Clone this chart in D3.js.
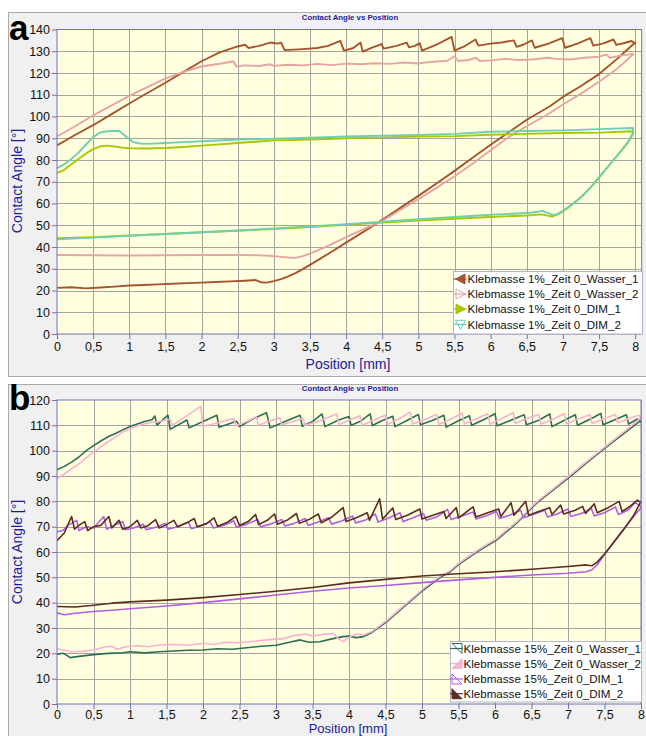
<!DOCTYPE html>
<html>
<head>
<meta charset="utf-8">
<script src="https://cdn.jsdelivr.net/npm/d3@7"></script>
<style>
  body { margin: 0; background: #fff; }
  svg { display: block; font-family: "Liberation Sans", Arial, sans-serif; }
</style>
</head>
<body>
<div id="chart"></div>
<script>
// ---- panel a : Klebmasse 1% ----
const aNames = ['Klebmasse 1%_Zeit 0_Wasser_1', 'Klebmasse 1%_Zeit 0_Wasser_2', 'Klebmasse 1%_Zeit 0_DIM_1', 'Klebmasse 1%_Zeit 0_DIM_2']
const aW1Lower = [[0,21.2],[0.2,21.5],[0.4,21],[0.6,21.4],[0.8,21.8],[1,22.3],[1.2,22.5],[1.4,22.8],[1.6,23.1],[1.8,23.4],[2,23.6],[2.2,23.9],[2.4,24.2],[2.6,24.5],[2.75,24.8],[2.82,23.8],[2.9,23.6],[3,24.3],[3.1,25.2],[3.2,26.5],[3.3,28],[3.4,29.8],[3.5,31.8],[3.75,36.8],[4,42],[4.25,47.2],[4.5,52.5],[4.75,58],[5,63.5],[5.25,69.2],[5.5,75],[5.75,81],[6,87],[6.27,93.2],[6.5,98.5],[6.82,104.7],[7,109],[7.25,114],[7.5,119.5],[7.75,126.5],[7.9,131],[8,134]]
const aW1Upper = [[0,86.7],[0.25,91.5],[0.5,96],[0.75,101],[1,106],[1.25,110.8],[1.5,115.5],[1.75,120.5],[2,125.4],[2.25,129.5],[2.5,132.2],[2.6,133],[2.65,131.5],[2.8,132.5],[2.95,134],[3.05,133.5],[3.1,134],[3.15,130.5],[3.4,131],[3.6,131.5],[3.75,132.5],[3.92,134.8],[3.97,130.3],[4.1,131.5],[4.2,134],[4.23,129.8],[4.35,131.5],[4.49,133.3],[4.52,131.2],[4.7,132.5],[4.84,134],[4.87,131.8],[4.95,132.5],[5.02,133.7],[5.05,130.3],[5.25,133],[5.46,136.6],[5.5,130.3],[5.65,132.5],[5.79,135.4],[5.83,132.6],[6,133.5],[6.15,134],[6.32,135],[6.36,132],[6.45,133],[6.57,135],[6.61,131.6],[6.8,133.5],[6.99,136],[7.03,131.6],[7.2,133.5],[7.38,136],[7.42,132.6],[7.55,133.5],[7.7,135.4],[7.74,132.9],[7.85,133.8],[7.95,134.7],[8,133.5]]
const aW2Lower = [[0,36.3],[0.5,36.2],[1,36.1],[1.5,36.2],[2,36.3],[2.5,36.4],[2.8,36.2],[3,35.8],[3.2,35.2],[3.3,35],[3.4,35.8],[3.5,37],[3.75,40.5],[4,44.5],[4.25,48.3],[4.5,52],[4.75,57],[5,62],[5.25,67.2],[5.5,72.5],[5.75,78.3],[6,84.5],[6.27,91],[6.5,95.5],[6.82,101.6],[7,105.5],[7.25,110.5],[7.5,116],[7.75,122],[7.97,128.5]]
const aW2Upper = [[0,90.8],[0.25,95.5],[0.5,100.5],[0.75,105],[1,109.5],[1.25,113.5],[1.5,117.5],[1.75,120.5],[2,123],[2.2,124],[2.3,124.5],[2.44,125.4],[2.48,123],[2.6,123.5],[2.8,123.2],[2.95,124],[3,123.3],[3.2,123.8],[3.4,123.5],[3.6,124.2],[3.8,123.6],[4,124.3],[4.2,124],[4.4,124.5],[4.6,124.2],[4.8,124.8],[5,124.4],[5.2,125.2],[5.4,125.6],[5.5,127.7],[5.55,125.5],[5.7,126],[5.8,127],[5.85,125.5],[6,125.8],[6.2,126.5],[6.4,126],[6.6,126.3],[6.8,127],[6.9,126.5],[7.1,126.2],[7.3,127],[7.5,127.5],[7.6,128.5],[7.65,127],[7.8,128],[7.97,128.8]]
const aD1Lower = [[0,44],[0.5,44.5],[1,45.3],[1.5,46],[2,46.8],[2.5,47.5],[3,48.3],[3.5,49.2],[4,50.2],[4.5,51.2],[5,52.2],[5.5,53],[6,53.8],[6.5,54.5],[6.7,55],[6.8,54.3],[6.85,54],[6.95,55.3],[7.05,57.5],[7.2,61.5],[7.3,64.5],[7.4,68],[7.5,72],[7.6,76],[7.7,80],[7.8,84],[7.9,88],[7.97,92]]
const aD1Upper = [[0,74],[0.1,75.5],[0.2,78],[0.3,80.5],[0.4,83],[0.5,85],[0.6,86.3],[0.7,86.6],[0.8,86.2],[0.9,85.7],[1,85.4],[1.25,85.3],[1.5,85.5],[1.75,86],[2,86.6],[2.25,87.2],[2.5,87.8],[2.75,88.4],[3,89],[3.25,89.2],[3.5,89.4],[3.75,89.6],[4,90],[4.5,90.4],[5,90.8],[5.5,91],[6,91.6],[6.5,92],[7,92.4],[7.5,92.6],[7.97,93.2]]
const aD2Lower = [[0,43.5],[0.5,44.3],[1,45.2],[1.5,46],[2,46.8],[2.5,47.6],[3,48.5],[3.5,49.5],[4,50.5],[4.5,51.6],[5,52.8],[5.5,53.8],[6,54.8],[6.5,55.6],[6.65,56.2],[6.72,56.6],[6.8,55.5],[6.88,54.6],[6.95,55.6],[7.05,57.8],[7.2,61.5],[7.3,64.5],[7.4,68],[7.5,72],[7.6,76],[7.7,80],[7.8,84],[7.9,88.3],[7.97,92.5]]
const aD2Upper = [[0,76.3],[0.1,78],[0.2,80.5],[0.3,83.5],[0.4,87],[0.5,90.5],[0.6,92.7],[0.7,93.2],[0.8,93.3],[0.86,93.4],[0.95,90.9],[1.05,88.3],[1.15,87.6],[1.25,87.4],[1.5,87.8],[1.75,88.2],[2,88.6],[2.5,89.4],[3,89.8],[3.5,90.2],[4,90.8],[4.5,91.2],[5,91.5],[5.5,92],[6,93],[6.5,93.3],[7,93.6],[7.5,94.2],[7.97,94.7]]

// ---- panel b : Klebmasse 15% ----
const bNames = ['Klebmasse 15%_Zeit 0_Wasser_1', 'Klebmasse 15%_Zeit 0_Wasser_2', 'Klebmasse 15%_Zeit 0_DIM_1', 'Klebmasse 15%_Zeit 0_DIM_2']
const bW1Lower = [[0,19.6],[0.08,20],[0.12,19.5],[0.18,18.3],[0.3,18.8],[0.5,19.5],[0.7,20],[0.9,20.2],[1,20.6],[1.2,20.2],[1.4,20.6],[1.6,20.9],[1.8,21.2],[2,21.3],[2.2,21.8],[2.4,21.6],[2.6,22.2],[2.8,22.8],[3,23.2],[3.2,24.5],[3.33,25.3],[3.45,24.4],[3.6,24.6],[3.75,25.6],[3.92,26.6],[4,26.8],[4.1,26.2],[4.2,26.6],[4.3,28],[4.52,32.5],[4.75,38.3],[5.02,45],[5.25,50],[5.38,52],[5.5,55],[5.75,60],[6.02,64.7],[6.3,71.5],[6.57,79.3],[6.8,84.5],[7.05,90.2],[7.3,96.3],[7.55,102],[7.8,107.5],[8,112]]
const bW1Upper = [[0,92.5],[0.1,93.8],[0.2,95.5],[0.3,97.5],[0.4,100],[0.5,102],[0.6,103.8],[0.7,105.5],[0.8,106.8],[0.9,108.2],[1,109.5],[1.1,110.5],[1.2,111.5],[1.3,112.2],[1.34,113.7],[1.37,110.1],[1.52,114],[1.55,108.4],[1.78,112.1],[1.81,109],[2,111.5],[2.19,114],[2.22,109.2],[2.46,111.6],[2.5,109.5],[2.7,112.8],[2.87,115],[2.92,109],[3.1,111.2],[3.33,114],[3.36,109.6],[3.5,111.5],[3.63,114.5],[3.67,109.5],[3.85,112],[4,113.5],[4.03,110],[4.15,111.5],[4.29,114.5],[4.32,109.9],[4.45,111.8],[4.6,113.6],[4.63,109.5],[4.8,112],[4.95,114.3],[4.98,110.2],[5.15,112],[5.3,114],[5.33,109.3],[5.5,111.8],[5.65,113.8],[5.68,110],[5.85,112.3],[6,114.6],[6.03,109.8],[6.2,111.8],[6.4,114.2],[6.43,110.2],[6.6,112],[6.75,114.5],[6.78,109.5],[6.95,112],[7.1,114.2],[7.13,110],[7.3,112.4],[7.45,114.7],[7.48,110.2],[7.65,112.3],[7.8,114.2],[7.83,110.5],[7.95,112.5],[8,111.2]]
const bW2Lower = [[0,21.8],[0.1,21.2],[0.2,20.5],[0.35,20.8],[0.5,21.3],[0.65,22.5],[0.75,22.8],[0.82,21.6],[0.95,22.6],[1.1,23],[1.25,22.6],[1.4,23.3],[1.6,23.5],[1.8,23.2],[2,24],[2.15,23.5],[2.3,24.4],[2.5,24.2],[2.7,24.8],[2.9,25.4],[3.1,25.8],[3.25,27],[3.4,27.6],[3.5,26.8],[3.65,27.5],[3.79,27.8],[3.85,25.8],[3.92,24.6],[4,26.3],[4.1,27.6],[4.2,27.2],[4.3,28.4],[4.52,33],[4.75,38.8],[5.02,45.5],[5.25,50.5],[5.38,52.5],[5.5,55.5],[5.75,60.5],[6.02,65.3],[6.3,72],[6.57,79.8],[6.8,85],[7.05,90.8],[7.3,96.8],[7.55,102.5],[7.8,108.2],[8,113]]
const bW2Upper = [[0,89],[0.1,90.8],[0.2,92.8],[0.3,94.8],[0.45,98.3],[0.6,101.5],[0.75,104.5],[0.91,107.5],[1.05,109.3],[1.2,110.6],[1.3,111.2],[1.4,111.5],[1.55,112.4],[1.58,110],[1.97,117.5],[2,109.5],[2.2,111],[2.42,112.7],[2.45,109.8],[2.6,111.5],[2.73,113.4],[2.76,110],[2.9,111.5],[3.05,113],[3.08,110.2],[3.2,111.2],[3.37,112.8],[3.4,110],[3.6,111.8],[3.83,114.5],[3.86,110.3],[4,112],[4.15,113.8],[4.18,110],[4.32,111.8],[4.5,114],[4.53,110.4],[4.68,112.5],[4.84,115.2],[4.87,110.5],[5.02,112],[5.2,114.4],[5.23,110.3],[5.38,112.3],[5.55,114.8],[5.58,110.6],[5.72,112.3],[5.9,114.6],[5.93,110.4],[6.08,112.5],[6.25,115],[6.28,110.8],[6.42,112.5],[6.6,114.3],[6.63,110.5],[6.78,112.2],[6.95,114.6],[6.98,110.6],[7.12,112.4],[7.3,114.2],[7.33,110.8],[7.48,112.5],[7.65,114.3],[7.68,111],[7.82,112.5],[7.97,114],[8,112.8]]
const bD1Lower = [[0,36],[0.1,35.2],[0.25,35.8],[0.5,36.5],[0.75,37],[1,37.6],[1.5,38.7],[2,40],[2.5,41.5],[3,43],[3.5,44.5],[4,45.8],[4.5,46.8],[5,47.9],[5.5,49],[6,50],[6.5,50.9],[7,51.6],[7.25,52.2],[7.33,53],[7.4,55],[7.5,59],[7.6,63],[7.7,66.8],[7.8,70.5],[7.9,74],[8,77.5]]
const bD1Upper = [[0,68],[0.08,68.5],[0.15,70.5],[0.27,72.5],[0.3,68.5],[0.4,70],[0.5,69.5],[0.64,74],[0.68,69],[0.78,70.5],[0.9,72],[0.94,68.8],[1.05,69.5],[1.18,71],[1.22,68.8],[1.35,69.8],[1.48,71.3],[1.52,69],[1.65,70],[1.8,71.8],[1.84,69.2],[1.98,70.5],[2.1,72],[2.14,69.5],[2.28,70.5],[2.42,72.3],[2.46,69.8],[2.6,71],[2.75,72.8],[2.79,70],[2.92,71],[3.08,72.8],[3.12,70.3],[3.25,71.3],[3.4,73.2],[3.44,70.5],[3.58,71.8],[3.72,73.5],[3.76,71],[3.9,72.2],[4.05,74.2],[4.09,71.5],[4.22,72.5],[4.36,75],[4.4,71.8],[4.55,73.5],[4.7,75.5],[4.74,72],[4.88,73.5],[5.02,75.2],[5.06,72.5],[5.2,73.8],[5.35,76.8],[5.4,72.8],[5.55,74.2],[5.7,75.8],[5.74,73],[5.88,74.3],[6.02,76],[6.06,73.2],[6.2,74.5],[6.35,76.5],[6.39,73.5],[6.52,74.8],[6.68,76.5],[6.72,73.8],[6.85,75],[7,77],[7.04,74],[7.18,75.2],[7.32,77.2],[7.36,74.2],[7.5,75.5],[7.65,77.8],[7.69,74.8],[7.82,76.5],[7.92,79.5],[8,78]]
const bD2Lower = [[0,38.5],[0.25,38.3],[0.5,39],[0.75,39.8],[1,40.3],[1.5,41],[2,42],[2.5,43.2],[3,44.5],[3.5,46],[4,47.8],[4.5,49.2],[5,50.5],[5.5,51.4],[6,52.2],[6.5,53.2],[7,54.3],[7.25,54.9],[7.33,54.6],[7.4,56],[7.5,59.2],[7.6,62.8],[7.7,66.5],[7.8,70.3],[7.9,74.5],[8,80]]
const bD2Upper = [[0,64.5],[0.1,67.5],[0.2,74],[0.24,69],[0.3,70.5],[0.38,72],[0.42,68.5],[0.5,70],[0.6,70.5],[0.71,74],[0.75,69.5],[0.85,72.5],[0.9,69],[1,70],[1.1,72.5],[1.15,69.5],[1.25,70.5],[1.35,72.8],[1.4,69.5],[1.5,70.8],[1.6,72.5],[1.65,70],[1.78,71.5],[1.88,73.2],[1.92,70],[2.05,71.2],[2.15,73.5],[2.2,70.2],[2.32,71.5],[2.45,74],[2.5,70.5],[2.62,72],[2.72,74.8],[2.76,70.8],[2.88,72.5],[2.98,75],[3.02,71],[3.15,72.5],[3.28,75.2],[3.32,71.3],[3.45,72.8],[3.58,75],[3.62,71.5],[3.75,73.5],[3.92,77.5],[3.96,72],[4.1,73.5],[4.25,75.5],[4.28,72.5],[4.42,81],[4.46,73],[4.6,77.4],[4.64,72.8],[4.8,74.5],[4.97,77],[5,73],[5.15,74.5],[5.3,76],[5.33,73.2],[5.47,77.5],[5.5,73.5],[5.7,77.8],[5.74,73.8],[5.9,75.5],[6.05,77],[6.08,74],[6.22,79.4],[6.26,74.5],[6.42,80],[6.46,74.5],[6.6,76],[6.75,77.5],[6.78,74.8],[6.9,78.5],[6.94,75],[7.1,76.5],[7.2,78],[7.24,75.2],[7.36,79],[7.4,75.5],[7.55,77.5],[7.7,80],[7.74,76],[7.85,78],[7.95,80.5],[8,79.5]]

// tick values
const xTicks = [0, 0.5, 1, 1.5, 2, 2.5, 3, 3.5, 4, 4.5, 5, 5.5, 6, 6.5, 7, 7.5, 8]
const yTicksA = [0, 10, 20, 30, 40, 50, 60, 70, 80, 90, 100, 110, 120, 130, 140]
const yTicksB = [0, 10, 20, 30, 40, 50, 60, 70, 80, 90, 100, 110, 120]

// a loop = lower branch forward, then upper branch back
const loop = (lower, upper) => lower.concat(upper.slice().reverse())

const axisColor = '#7272b8'
const navy = '#1c1c96'
const fmt = d => String(d).replace('.', ',')

const panels = [
  {
    letter: 'a', frameY: 12, frameH: 364,
    left: 57, right: 641.7, top: 29.5, bottom: 334, xMax: 8.09, yMax: 140,
    yTicks: yTicksA, yMinor: 2, labelPadX: 3, titleY: 19.5, letterY: 40,
    xTitleY: 369, xTitleSize: 14, yTitleY: 181,
    lineW: 1.9,
    legend: { x: 453.5, y: 271.5, w: 189, h: 62.5, rows: [279, 294, 309, 324.3], mx: 460.5, tx: 467.5 },
    series: [
      { name: aNames[0], color: '#a4542e', data: loop(aW1Lower, aW1Upper), mark: 'M4.5,-5L4.5,5L-5,0Z', fill: true },
      { name: aNames[1], color: '#e6a4a4', data: loop(aW2Lower, aW2Upper), mark: 'M-4.5,-5L-4.5,5L5,0Z', fill: false },
      { name: aNames[2], color: '#a9c800', data: loop(aD1Lower, aD1Upper), mark: 'M-4.5,-5L-4.5,5L5,0Z', fill: true },
      { name: aNames[3], color: '#6fcfb2', data: loop(aD2Lower, aD2Upper), mark: 'M-5,-4L5,-4L0,5Z', fill: false }
    ]
  },
  {
    letter: 'b', frameY: 384, frameH: 360,
    left: 57, right: 641, top: 400, bottom: 704, xMax: 8, yMax: 120,
    yTicks: yTicksB, yMinor: 1, labelPadX: 1, titleY: 390.5, letterY: 410,
    xTitleY: 733, xTitleSize: 13, yTitleY: 552,
    lineW: 1.6,
    legend: { x: 450.5, y: 641.5, w: 191, h: 60.5, rows: [648.5, 663.5, 679, 693.7], mx: 457, tx: 463.5 },
    series: [
      { name: bNames[0], color: '#2f6e55', data: loop(bW1Lower, bW1Upper), mark: 'M-5,-5L5,-5L5,5Z', fill: false },
      { name: bNames[1], color: '#f8b2d0', data: loop(bW2Lower, bW2Upper), mark: 'M5,-5L5,5L-5,5Z', fill: true },
      { name: bNames[2], color: '#b25ee2', data: loop(bD1Lower, bD1Upper), mark: 'M-5,-5L-5,5L5,5Z', fill: false },
      { name: bNames[3], color: '#5b2c20', data: loop(bD2Lower, bD2Upper), mark: 'M-5,-5L-5,5L5,5Z', fill: true }
    ]
  }
]

const svg = d3.select('#chart')
  .append('svg')
  .attr('width', 646)
  .attr('height', 736)

const drawPanel = (p, i) => {
  const g = svg.append('g')

  // grey frame around the whole chart
  g.append('rect')
    .attr('x', 8.5).attr('y', p.frameY + 0.5)
    .attr('width', 660).attr('height', p.frameH)
    .attr('fill', '#f0f0f0')
    .attr('stroke', '#a9a9a9')

  const x = d3.scaleLinear().domain([0, p.xMax]).range([p.left, p.right])
  const y = d3.scaleLinear().domain([0, p.yMax]).range([p.bottom, p.top])

  g.append('rect')
    .attr('x', p.left).attr('y', p.top)
    .attr('width', p.right - p.left).attr('height', p.bottom - p.top)
    .attr('fill', '#ffffe0')

  // grid
  g.append('g').selectAll('line')
    .data(xTicks.filter(d => d > 0))
    .enter().append('line')
    .attr('x1', d => Math.round(x(d)) + 0.5).attr('x2', d => Math.round(x(d)) + 0.5)
    .attr('y1', p.top).attr('y2', p.bottom)
    .attr('stroke', '#a4a49c')
  g.append('g').selectAll('line')
    .data(p.yTicks.filter(d => d > 0 && d < p.yMax))
    .enter().append('line')
    .attr('y1', d => Math.round(y(d)) + 0.5).attr('y2', d => Math.round(y(d)) + 0.5)
    .attr('x1', p.left).attr('x2', p.right)
    .attr('stroke', '#a4a49c')

  // curves
  const clipId = 'clip' + i
  g.append('clipPath').attr('id', clipId)
    .append('rect')
    .attr('x', p.left).attr('y', p.top)
    .attr('width', p.right - p.left).attr('height', p.bottom - p.top)

  const line = d3.line().x(d => x(d[0])).y(d => y(d[1]))
  g.append('g').attr('clip-path', `url(#${clipId})`)
    .selectAll('path')
    .data(p.series)
    .enter().append('path')
    .attr('d', d => line(d.data))
    .attr('fill', 'none')
    .attr('stroke', d => d.color)
    .attr('stroke-width', p.lineW)
    .attr('stroke-linejoin', 'round')

  // axes
  const xMinor = d3.range(0, p.xMax + 0.001, 0.1)
  const yMinor = d3.range(0, p.yMax + 0.001, p.yMinor)

  const xg = g.append('g').attr('transform', `translate(0,${p.bottom})`)
  xg.call(d3.axisBottom(x).tickValues(xMinor).tickSize(3).tickSizeOuter(0).tickFormat(''))
  xg.call(d3.axisBottom(x).tickValues(xTicks).tickSize(5).tickSizeOuter(0).tickPadding(p.labelPadX).tickFormat(fmt))

  const yg = g.append('g').attr('transform', `translate(${p.left},0)`)
  yg.call(d3.axisLeft(y).tickValues(yMinor).tickSize(3).tickSizeOuter(0).tickFormat(''))
  yg.call(d3.axisLeft(y).tickValues(p.yTicks).tickSize(5).tickSizeOuter(0).tickPadding(2).tickFormat(d3.format('d')))

  g.selectAll('.domain').remove()
  g.selectAll('.tick line').attr('stroke', axisColor)
  g.selectAll('.tick text')
    .attr('fill', '#111')
    .attr('font-size', 12.5)
    .attr('font-family', '"Liberation Sans", Arial, sans-serif')

  // plot border
  g.append('rect')
    .attr('x', p.left).attr('y', p.top)
    .attr('width', p.right - p.left).attr('height', p.bottom - p.top)
    .attr('fill', 'none')
    .attr('stroke', axisColor)

  // texts
  g.append('text')
    .attr('x', 350).attr('y', p.titleY)
    .attr('text-anchor', 'middle')
    .attr('font-size', 7.8)
    .attr('font-weight', 'bold')
    .attr('fill', navy)
    .text('Contact Angle vs Position')

  g.append('text')
    .attr('x', 9).attr('y', p.letterY)
    .attr('font-size', 35)
    .attr('font-weight', 'bold')
    .attr('fill', '#000')
    .text(p.letter)

  g.append('text')
    .attr('x', 348).attr('y', p.xTitleY)
    .attr('text-anchor', 'middle')
    .attr('font-size', p.xTitleSize)
    .attr('fill', navy)
    .text('Position [mm]')

  g.append('text')
    .attr('transform', `translate(22,${p.yTitleY}) rotate(-90)`)
    .attr('text-anchor', 'middle')
    .attr('font-size', 14)
    .attr('fill', navy)
    .text('Contact Angle [°]')

  // legend
  const L = p.legend
  g.append('rect')
    .attr('x', L.x).attr('y', L.y)
    .attr('width', L.w).attr('height', L.h)
    .attr('fill', '#fff')
    .attr('stroke', '#b4b4c8')

  const items = g.append('g').selectAll('g')
    .data(p.series)
    .enter().append('g')
    .attr('transform', (d, k) => `translate(0,${L.rows[k]})`)

  items.append('line')
    .attr('x1', L.mx - 7).attr('x2', L.mx + 6)
    .attr('stroke', d => d.color)
    .attr('stroke-width', 1.2)
  items.append('path')
    .attr('transform', `translate(${L.mx},0)`)
    .attr('d', d => d.mark)
    .attr('fill', d => d.fill ? d.color : 'none')
    .attr('stroke', d => d.color)
    .attr('stroke-width', 1)
  items.append('text')
    .attr('x', L.tx).attr('y', 4.2)
    .attr('font-size', 11.6)
    .attr('fill', '#111')
    .text(d => d.name)
}

panels.forEach(drawPanel)
</script>
</body>
</html>
